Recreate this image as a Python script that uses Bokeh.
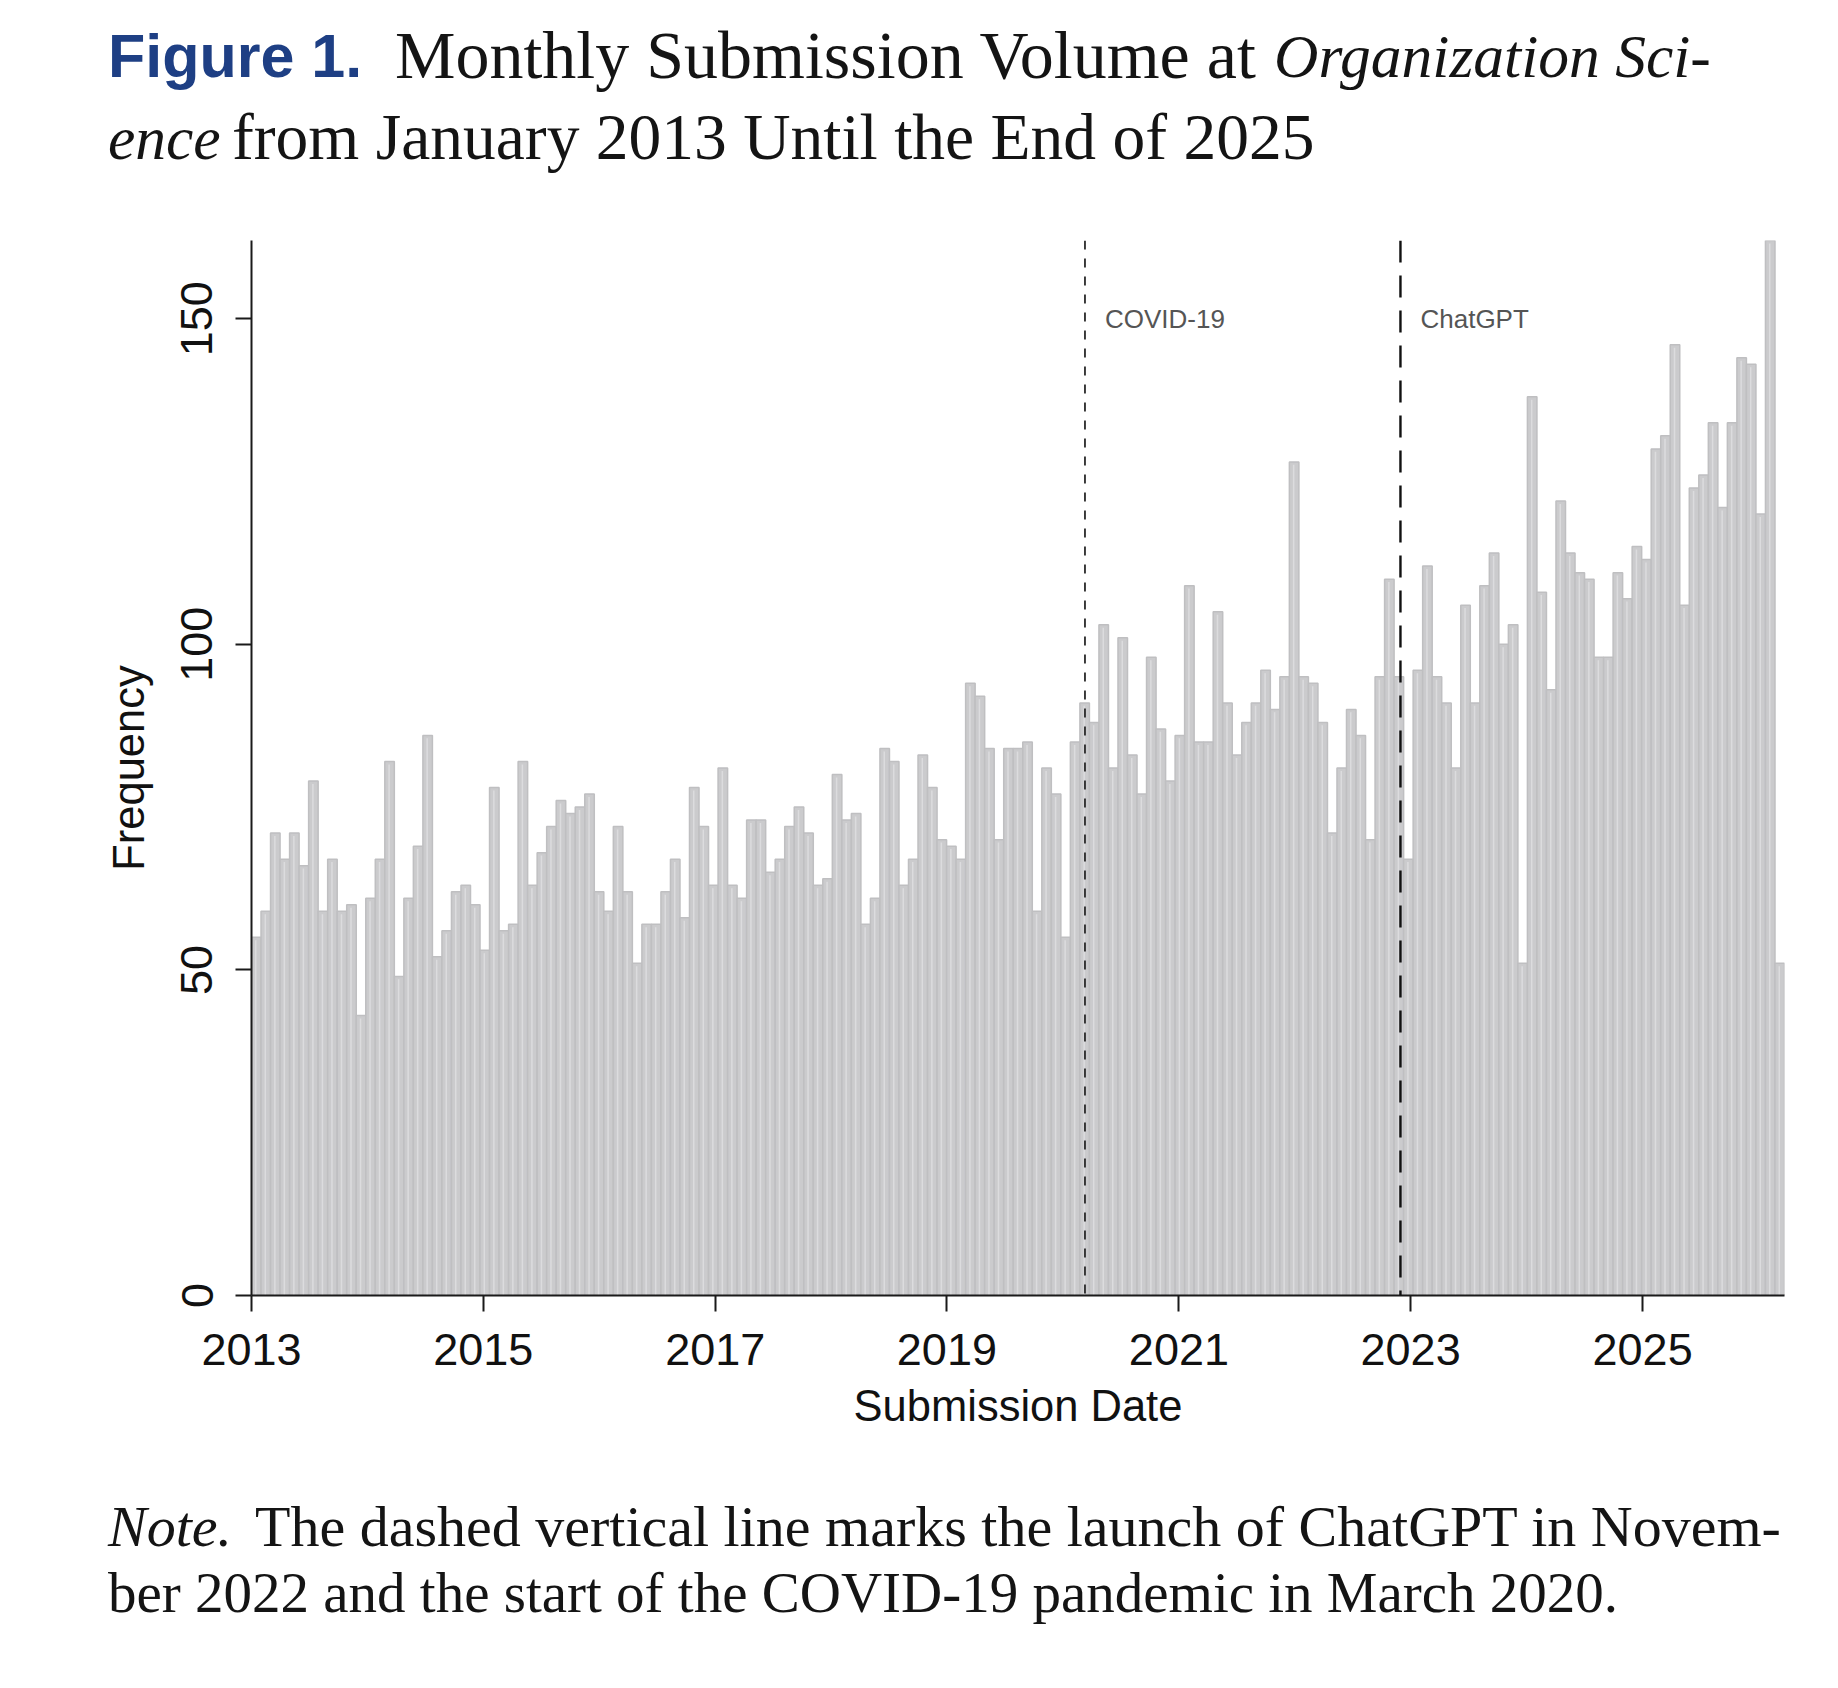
import numpy as np
import pandas as pd
from bokeh.plotting import figure
from bokeh.layouts import column
from bokeh.models import (ColumnDataSource, Range1d, FixedTicker, Div,
                          DatetimeTickFormatter, Span, Label)
from bokeh.embed import file_html
from bokeh.resources import INLINE

# ---------------- data ----------------
bin_start = "2013-01-01"      # first histogram bin
bin_width_days = 30           # histogram bin width (days)
counts = [
    55, 59, 71, 67, 71, 66, 79, 59, 67, 59, 60, 43, 61, 67, 82, 49, 61, 69, 86, 52, 56, 62, 63, 60,
    53, 78, 56, 57, 82, 63, 68, 72, 76, 74, 75, 77,
    62, 59, 72, 62, 51, 57, 57, 62, 67, 58, 78, 72,
    63, 81, 63, 61, 73, 73, 65, 67, 72, 75, 71, 63,
    64, 80, 73, 74, 57, 61, 84, 82, 63, 67, 83, 78, 70, 69, 67, 94, 92, 84, 70, 84, 84, 85, 59, 81,
    77, 55, 85, 91,
    88, 103, 81, 101, 83, 77, 98, 87, 79, 86, 109, 85, 85, 105, 91, 83, 88, 91, 96, 90, 95, 128, 95,
    94, 88, 71, 81, 90, 86, 70, 95, 110, 95,
    67, 96, 112, 95, 91, 81, 106, 91, 109, 114, 100, 103, 51, 138, 108, 93, 122, 114, 111, 110,
    98, 98, 111, 107, 115, 113, 130, 132, 146, 106, 124, 126, 134, 121, 134, 144, 143, 120, 162, 51,
]
tick_years = [2013, 2015, 2017, 2019, 2021, 2023, 2025]
y_ticks = [0, 50, 100, 150]
event_dates = ["2020-03-11", "2022-11-30"]
event_labels = ["COVID-19", "ChatGPT"]

title_runs = ["Figure 1.", "Monthly Submission Volume at", "Organization Sci-",
              "ence", "from January 2013 Until the End of 2025"]
note_runs = ["Note", ".", "The dashed vertical line marks the launch of ChatGPT in Novem-",
             "ber 2022 and the start of the COVID-19 pandemic in March 2020."]

# ---------------- derived ----------------
n = len(counts)
start = pd.Timestamp(bin_start)
left = start + pd.to_timedelta(np.arange(n) * bin_width_days, unit="D")
right = left + pd.Timedelta(days=bin_width_days)
stripe = left + pd.Timedelta(days=bin_width_days * 0.45)
src = ColumnDataSource(dict(left=left, right=right, top=counts, bottom=[0] * n,
                            stripe=stripe, stripe_top=np.array(counts) - 0.45))

def ms(ts):
    return pd.Timestamp(ts).value / 1e6

SANS = "Liberation Sans"
SERIF = "Liberation Serif"
W = 1830
TOP_H = 200
MAIN_TOP, MAIN_BOTTOM = 40, 170
NOTE_H = 215

# ---------------- main chart ----------------
p = figure(x_axis_type="datetime", output_backend="svg", toolbar_location=None,
           frame_width=1533, frame_height=1055,
           min_border_left=251, min_border_right=W - 251 - 1533, min_border_top=MAIN_TOP,
           min_border_bottom=MAIN_BOTTOM,
           x_range=Range1d(ms(left[0]), ms(right[-1])), y_range=Range1d(0, max(counts)),
           background_fill_color="white", border_fill_color="white")
p.outline_line_color = None
p.xgrid.visible = False
p.ygrid.visible = False

p.quad(left="left", right="right", top="top", bottom="bottom", source=src,
       fill_color="#cbcbcd", line_color="#bfbfc1", line_width=1.5)
p.segment(x0="stripe", y0="bottom", x1="stripe", y1="stripe_top", source=src,
          line_color="#dcdcde", line_width=1.5)

dashes = ["9 9", "22 13"]
widths = [1.8, 2.4]
colors = ["#2a2a2a", "#111111"]
for d, lab, dash, w, c in zip(event_dates, event_labels, dashes, widths, colors):
    p.add_layout(Span(location=ms(d), dimension="height", line_color=c,
                      line_width=w, line_dash=dash))
    p.add_layout(Label(x=ms(d), y=150, x_offset=20, text=lab, text_font=SANS,
                       text_font_size="26px", text_color="#555555",
                       text_baseline="middle", text_align="left"))

for ax in (p.xaxis[0], p.yaxis[0]):
    ax.axis_line_color = "#1a1a1a"
    ax.axis_line_width = 2
    ax.major_tick_line_color = "#1a1a1a"
    ax.major_tick_line_width = 2
    ax.major_tick_out = 16
    ax.major_tick_in = 0
    ax.minor_tick_out = 0
    ax.minor_tick_in = 0
    ax.major_label_text_font = SANS
    ax.major_label_text_font_size = "45px"
    ax.major_label_text_color = "#111111"
    ax.axis_label_text_font = SANS
    ax.axis_label_text_font_size = "43.5px"
    ax.axis_label_text_font_style = "normal"
    ax.axis_label_text_color = "#111111"

p.xaxis.ticker = FixedTicker(ticks=[ms(f"{y}-01-01") for y in tick_years])
p.xaxis.formatter = DatetimeTickFormatter(years="%Y", months="%Y", days="%Y",
                                          hours="%Y", minutes="%Y", seconds="%Y")
p.xaxis.major_label_standoff = 22
p.xaxis.axis_label = "Submission Date"
p.xaxis.axis_label_standoff = 14

p.yaxis.ticker = FixedTicker(ticks=y_ticks)
p.yaxis.major_label_orientation = "vertical"
p.yaxis.major_label_standoff = 23
p.yaxis.axis_label = "Frequency"
p.yaxis.axis_label_standoff = 26

# ---------------- title and note (HTML text, absolutely placed runs) ----------------
METRICS = {SERIF: (0.891, 0.216), SANS: (0.905, 0.212)}   # ascent, descent (em)

def run(text, x, baseline, size, family=SERIF, style="normal", weight="normal",
        color="#141414"):
    a, d = METRICS[family]
    top = baseline - ((1 - (a + d)) / 2 + a) * size
    return (f'<span style="position:absolute;left:{x}px;top:{top:.1f}px;'
            f"font-family:'{family}';font-size:{size}px;line-height:{size}px;"
            f'font-style:{style};font-weight:{weight};color:{color};'
            f'white-space:nowrap;">{text}</span>')

def panel(h, spans):
    html = (f'<div style="position:relative;width:{W}px;height:{h}px;margin:0;padding:0;">'
            + "".join(spans) + "</div>")
    return Div(text=html, width=W, height=h, margin=0)

title_div = panel(TOP_H, [
    run(title_runs[0], 108, 77.5, 61, family=SANS, weight="bold", color="#1e3f84"),
    run(title_runs[1], 395, 77.5, 68),
    run(title_runs[2], 1274, 77.5, 61.5, style="italic"),
    run(title_runs[3], 108, 159.5, 61.5, style="italic"),
    run(title_runs[4], 232, 159.5, 65.5),
])

note_top = TOP_H + MAIN_TOP + 1055 + MAIN_BOTTOM
note_div = panel(NOTE_H, [
    run(note_runs[0], 108, 1547 - note_top, 58, style="italic"),
    run(note_runs[1], 216, 1547 - note_top, 58),
    run(note_runs[2], 255, 1547 - note_top, 58),
    run(note_runs[3], 108, 1612 - note_top, 57),
])

layout = column(title_div, p, note_div, spacing=0)
open("out.html", "w").write(file_html(layout, INLINE))
